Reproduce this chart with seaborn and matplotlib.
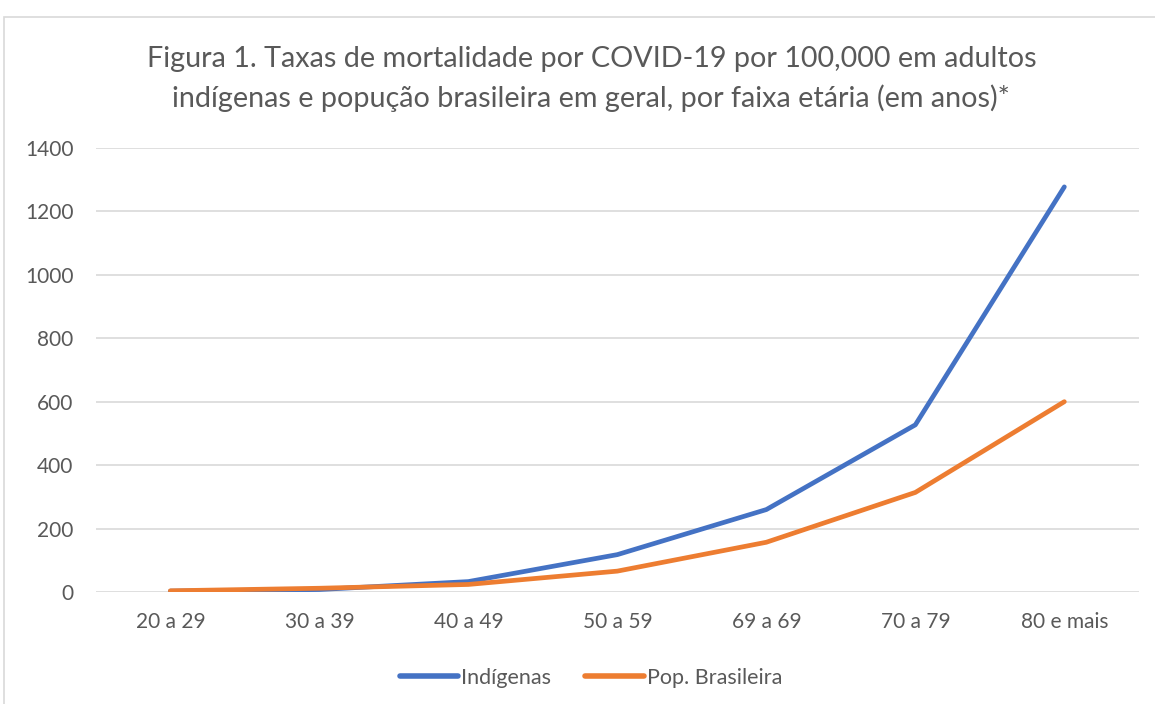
import pandas as pd
import matplotlib
matplotlib.use("Agg")
import matplotlib.pyplot as plt
import seaborn as sns
from matplotlib.patches import Rectangle

# data
faixas = ["20 a 29", "30 a 39", "40 a 49", "50 a 59", "69 a 69", "70 a 79", "80 e mais"]
indigenas = [3, 8, 33, 118, 260, 527, 1277]
pop_brasileira = [4, 12, 24, 66, 157, 314, 600]
series_names = ["Indígenas", "Pop. Brasileira"]

df = pd.DataFrame({
    "faixa": faixas * 2,
    "taxa": indigenas + pop_brasileira,
    "grupo": [series_names[0]] * len(faixas) + [series_names[1]] * len(faixas),
})

sns.set_theme(style="white")
plt.rcParams["font.family"] = ["Lato", "DejaVu Sans"]

fig = plt.figure(figsize=(11.55, 7.04), dpi=100)
ax = fig.add_axes([0.083, 0.159, 0.903, 0.631])

sns.lineplot(data=df, x="faixa", y="taxa", hue="grupo", sort=False,
             palette=["#4472C4", "#ED7D31"], linewidth=3.4, ax=ax,
             solid_capstyle="round")

ax.set_xlim(-0.5, 6.5)
ax.set_ylim(0, 1400)
ax.set_yticks(range(0, 1401, 200))
ax.yaxis.grid(True, color="#D9D9D9", linewidth=1.2)
ax.set_axisbelow(True)
for s in ax.spines.values():
    s.set_visible(False)
ax.set_xlabel("")
ax.set_ylabel("")
ax.tick_params(axis="both", length=0, labelsize=15, colors="#595959")
ax.tick_params(axis="x", pad=14)
ax.tick_params(axis="y", pad=16)

# title centred on the whole chart area, not the plot area
fig.text(0.512, 0.888,
         "Figura 1. Taxas de mortalidade por COVID-19 por 100,000 em adultos\n"
         "indígenas e popução brasileira em geral, por faixa etária (em anos)*",
         ha="center", va="center", fontsize=20.7, color="#595959", linespacing=1.55)

leg = ax.legend(loc="center", bbox_to_anchor=(0.4746, -0.193), ncol=2, frameon=False,
                fontsize=15.5, handlelength=2.7, columnspacing=1.6, handletextpad=0.15)
for t in leg.get_texts():
    t.set_color("#595959")
for line in leg.get_lines():
    line.set_linewidth(4)

# chart frame
fig.patches.append(Rectangle((4 / 1155, -0.02), 1.1, 1 - 17 / 704 + 0.02,
                             transform=fig.transFigure, fill=False,
                             edgecolor="#D9D9D9", linewidth=1.2))

fig.savefig("out.png", dpi=100)
